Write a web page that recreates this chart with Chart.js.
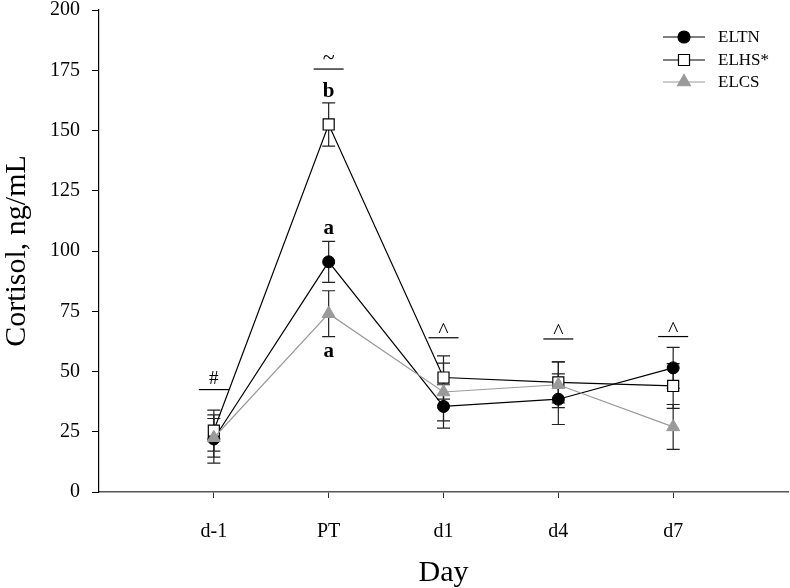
<!DOCTYPE html>
<html>
<head>
<meta charset="utf-8">
<script src="https://cdn.jsdelivr.net/npm/chart.js@4"></script>
<style>
  html, body { margin: 0; padding: 0; background: #fff; }
  #wrap { width: 790px; height: 588px; }
</style>
</head>
<body>
<div id="wrap"><canvas id="cortisol"></canvas></div>
<script>
// Sampling days
const days = ["d-1", "PT", "d1", "d4", "d7"];

// Mean cortisol (ng/mL) and SE for each group
const eltn = [22, 95.5, 35.5, 38.5, 51.5];
const eltnErr = [10, 8.5, 9, 10.5, 8.5];
const elhs = [25.5, 152.5, 47.5, 45.5, 44];
const elhsErr = [8.5, 9, 9, 8.5, 9.3];
const elcs = [22.5, 74, 41.5, 44.5, 27];
const elcsErr = [8, 9.5, 12, 9.5, 9.3];

// Y axis tick labels
const yTicks = [0, 25, 50, 75, 100, 125, 150, 175, 200];

// Significance marks over each day (symbol + line height in ng/mL)
const markSym = ["#", "~", "^", "^", "^"];
const markLine = [42.5, 175.5, 64, 63.5, 64.5];

// Letters at PT
const letterText = ["b", "a", "a"];
const letterDay = [1, 1, 1];
const letterY = [167, 109, 58];

const serif = "'Liberation Serif', 'Times New Roman', serif";
const grey = "#9a9a9a";

const pts = (vals) => vals.map((v, i) => ({ x: i + 1, y: v }));

// Draw vertical error bars with caps under the markers
const errorBars = {
  id: "errorBars",
  beforeDatasetsDraw(chart) {
    const ctx = chart.ctx;
    const xs = chart.scales.x, ys = chart.scales.y;
    ctx.save();
    ctx.strokeStyle = "#222";
    ctx.lineWidth = 1.2;
    chart.data.datasets.forEach((ds) => {
      ds.data.forEach((p, i) => {
        const e = ds.errors[i];
        const x = xs.getPixelForValue(p.x);
        const top = ys.getPixelForValue(p.y + e);
        const bot = ys.getPixelForValue(p.y - e);
        ctx.beginPath();
        ctx.moveTo(x, top); ctx.lineTo(x, bot);
        ctx.moveTo(x - 6.5, top); ctx.lineTo(x + 6.5, top);
        ctx.moveTo(x - 6.5, bot); ctx.lineTo(x + 6.5, bot);
        ctx.stroke();
      });
    });
    ctx.restore();
  }
};

// Put a glyph's visual centre on (x, y)
const centreText = (ctx, s, x, y) => {
  const m = ctx.measureText(s);
  const base = y + (m.actualBoundingBoxAscent - m.actualBoundingBoxDescent) / 2;
  ctx.fillText(s, x, base);
};

const marks = {
  id: "marks",
  afterDatasetsDraw(chart) {
    const ctx = chart.ctx;
    const xs = chart.scales.x, ys = chart.scales.y;
    ctx.save();
    ctx.fillStyle = "#000";
    ctx.strokeStyle = "#000";
    ctx.lineWidth = 1.2;
    ctx.textAlign = "center";
    ctx.textBaseline = "alphabetic";
    markSym.forEach((s, i) => {
      const x = xs.getPixelForValue(i + 1);
      const y = ys.getPixelForValue(markLine[i]);
      ctx.beginPath();
      ctx.moveTo(x - 15, y); ctx.lineTo(x + 15, y);
      ctx.stroke();
      ctx.font = (s === "#" ? "19px " : "22px ") + serif;
      centreText(ctx, s, x, y - (s === "^" ? 10 : 12));
    });
    ctx.font = "bold 21px " + serif;
    letterText.forEach((t, i) => {
      const x = xs.getPixelForValue(letterDay[i] + 1);
      const y = ys.getPixelForValue(letterY[i]);
      centreText(ctx, t, x, y);
    });

    // legend: line with marker in the middle
    const lx = 663, lw = 42, tx = 718;
    const rows = [37, 60, 82];
    ctx.textAlign = "left";
    ctx.textBaseline = "middle";
    ctx.font = "17px " + serif;
    chart.data.datasets.forEach((ds, i) => {
      const y = rows[i];
      const cx = lx + lw / 2;
      ctx.strokeStyle = ds.borderColor;
      ctx.lineWidth = 1.2;
      ctx.beginPath();
      ctx.moveTo(lx, y); ctx.lineTo(lx + lw, y);
      ctx.stroke();
      ctx.fillStyle = ds.pointBackgroundColor;
      ctx.strokeStyle = ds.pointBorderColor;
      ctx.beginPath();
      if (ds.pointStyle === "circle") {
        ctx.arc(cx, y, ds.pointRadius, 0, Math.PI * 2);
      } else if (ds.pointStyle === "rect") {
        const s = ds.pointRadius * Math.SQRT1_2;
        ctx.rect(cx - s, y - s, 2 * s, 2 * s);
      } else {
        const r = ds.pointRadius;
        ctx.moveTo(cx, y - r);
        ctx.lineTo(cx + r * 0.866, y + r / 2);
        ctx.lineTo(cx - r * 0.866, y + r / 2);
        ctx.closePath();
      }
      ctx.fill();
      ctx.stroke();
      ctx.fillStyle = "#000";
      ctx.fillText(ds.label, tx, y + 1);
    });
    ctx.restore();
  }
};

new Chart(document.getElementById("cortisol"), {
  type: "line",
  data: {
    datasets: [
      {
        label: "ELTN", data: pts(eltn), errors: eltnErr, order: 3,
        borderColor: "#000", borderWidth: 1.2,
        pointStyle: "circle", pointRadius: 6,
        pointBackgroundColor: "#000", pointBorderColor: "#000", pointBorderWidth: 1
      },
      {
        label: "ELHS*", data: pts(elhs), errors: elhsErr, order: 2,
        borderColor: "#000", borderWidth: 1.2,
        pointStyle: "rect", pointRadius: 7.8,
        pointBackgroundColor: "#fff", pointBorderColor: "#000", pointBorderWidth: 1.2
      },
      {
        label: "ELCS", data: pts(elcs), errors: elcsErr, order: 1,
        borderColor: grey, borderWidth: 1.2,
        pointStyle: "triangle", pointRadius: 7.5,
        pointBackgroundColor: grey, pointBorderColor: grey, pointBorderWidth: 1
      }
    ]
  },
  options: {
    responsive: true,
    maintainAspectRatio: false,
    animation: false,
    layout: { autoPadding: false, padding: { top: 10, right: 2, left: 0, bottom: 0 } },
    plugins: { legend: { display: false }, tooltip: { enabled: false } },
    scales: {
      x: {
        type: "linear",
        min: 0, max: 6,
        afterBuildTicks: (s) => { s.ticks = days.map((d, i) => ({ value: i + 1 })); },
        afterFit: (s) => { s.height = 96; s.paddingLeft = 0; s.paddingRight = 0; },
        ticks: {
          callback: (v) => days[v - 1],
          color: "#000",
          font: { family: serif, size: 20 },
          padding: 22,
          maxRotation: 0
        },
        grid: { drawOnChartArea: false, tickLength: 6, tickColor: "#333" },
        border: { color: "#555", width: 1.5 },
        title: {
          display: true, text: "Day", color: "#000",
          font: { family: serif, size: 30, lineHeight: 1 },
          padding: { top: 0, bottom: 0 }
        }
      },
      y: {
        min: 0, max: 200,
        afterBuildTicks: (s) => { s.ticks = yTicks.map((v) => ({ value: v })); },
        afterFit: (s) => { s.width = 99; s.paddingTop = 0; s.paddingBottom = 0; },
        ticks: {
          color: "#000",
          font: { family: serif, size: 20 },
          padding: 12
        },
        grid: { drawOnChartArea: false, tickLength: 7, tickColor: "#000" },
        border: { color: "#000", width: 1.2 },
        title: {
          display: true, text: "Cortisol, ng/mL", color: "#000",
          font: { family: serif, size: 30, lineHeight: 1 },
          padding: { top: 2, bottom: 0 }
        }
      }
    }
  },
  plugins: [errorBars, marks]
});
</script>
</body>
</html>
